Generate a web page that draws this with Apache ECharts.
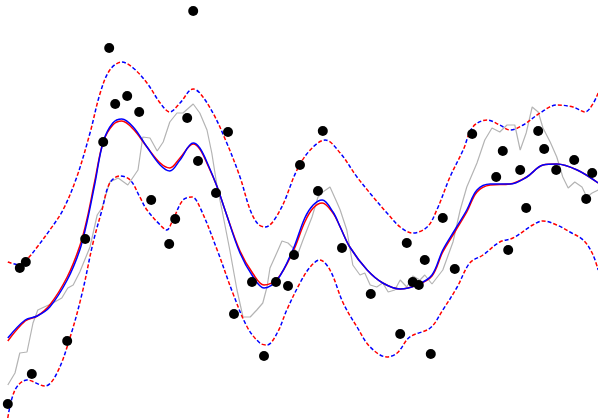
<!DOCTYPE html>
<html>
<head>
<meta charset="utf-8">
<script src="https://cdn.jsdelivr.net/npm/echarts@6/dist/echarts.min.js"></script>
<style>html,body{margin:0;padding:0;background:#fff}#c{width:598px;height:420px}</style>
</head>
<body>
<div id="c"></div>
<script>
// Observations [x, y]
const observations = [
[1.3,-19.4],[3.3,-5.8],[4.3,-5.2],[5.3,-16.4],[11.2,-13.1],[14.2,-2.9],[17.2,6.8],[18.2,16.2],[19.2,10.6],[21.2,11.4],
[23.2,9.8],[25.2,1.0],[28.2,-3.4],[29.2,-0.9],[31.2,9.2],[32.2,19.9],[33.0,4.9],[36.0,1.7],[38.0,7.8],[39.0,-10.4],
[42.0,-7.2],[44.0,-14.6],[46.0,-7.2],[48.0,-7.6],[49.0,-4.5],[50.0,4.5],[53.0,1.9],[53.8,7.9],[57.0,-3.8],[61.8,-8.4],
[66.7,-12.4],[67.8,-3.3],[68.8,-7.2],[69.8,-7.5],[70.8,-5.0],[71.8,-14.4],[73.8,-0.8],[75.8,-5.9],[78.7,7.6],[82.7,3.3],
[83.8,5.9],[84.7,-4.0],[86.7,4.0],[87.7,0.2],[89.7,7.9],[90.7,6.1],[92.7,4.0],[95.7,5.0],[97.7,1.1],[98.7,3.7]
];
// True (noisy) function, gray
const trueCurve = [
[1.3,-17.5],[2.5,-16.3],[3.3,-14.3],[4.5,-14.2],[5.5,-11.3],[6.3,-10.0],[8.8,-9.3],[10.3,-8.8],[11.3,-7.8],[12.2,-7.5],
[13.3,-6.2],[15.0,-3.7],[16.2,-0.5],[17.0,0.2],[18.3,2.8],[19.7,3.2],[21.3,2.5],[23.0,4.0],[23.8,7.3],[25.0,7.2],
[26.2,5.9],[27.2,6.8],[28.3,8.8],[29.5,9.7],[30.5,9.7],[32.2,10.6],[33.3,9.7],[34.5,8.0],[35.3,5.7],[36.2,2.3],
[37.0,0.0],[38.3,-4.0],[39.5,-8.0],[40.5,-10.7],[41.7,-10.7],[42.8,-10.0],[43.8,-9.3],[44.5,-7.7],[45.0,-5.8],[46.2,-4.2],
[47.0,-3.1],[48.0,-3.3],[49.7,-4.3],[50.5,-3.0],[52.0,-0.7],[53.0,1.3],[53.8,1.8],[55.0,2.3],[56.2,0.7],[56.7,0.0],
[57.8,-2.0],[58.8,-5.5],[60.0,-6.5],[60.8,-6.3],[61.7,-7.5],[62.8,-7.7],[63.8,-7.3],[64.7,-8.2],[65.8,-8.0],[66.7,-7.0],
[67.8,-7.7],[68.8,-6.6],[70.0,-7.0],[70.8,-6.5],[72.0,-7.4],[73.8,-6.0],[75.5,-3.2],[76.7,0.0],[77.8,2.3],[79.5,4.7],
[80.8,7.0],[82.0,8.2],[83.3,7.8],[84.5,8.5],[85.8,8.5],[86.7,6.0],[87.7,7.7],[88.7,10.3],[89.7,9.8],[90.5,8.2],
[91.7,6.8],[92.8,5.3],[93.8,3.3],[94.7,2.2],[95.8,2.8],[97.0,2.3],[97.8,1.3],[98.7,1.7],[99.7,2.0]
];
// Blue model mean
const meanBlue = [
[1.3,-12.8],[4.2,-11.0],[6.2,-10.6],[8.3,-9.7],[11.2,-7.0],[13.3,-4.0],[14.5,-1.2],[15.8,2.6],[17.2,6.8],[18.8,8.7],
[20.3,9.1],[22.2,8.3],[24.5,6.3],[26.7,4.5],[28.3,3.9],[30.0,5.0],[32.2,6.7],[33.3,6.2],[34.7,4.5],[36.2,2.3],
[37.5,0.0],[40.0,-4.3],[42.2,-6.7],[44.0,-7.8],[46.2,-7.0],[48.8,-4.0],[50.8,-0.8],[52.2,0.5],[53.7,1.0],[55.5,-0.2],
[56.7,-1.7],[58.3,-3.7],[61.2,-6.0],[63.8,-7.3],[66.7,-7.9],[69.5,-7.5],[72.0,-6.5],[73.8,-4.0],[75.8,-2.0],[77.8,0.0],
[79.5,2.0],[81.7,2.6],[85.0,2.6],[87.8,3.3],[90.5,4.5],[92.8,4.6],[96.2,4.0],[99.7,2.7]
];
// Red model mean
const meanRed = [
[1.3,-13.1],[4.2,-11.1],[6.2,-10.6],[8.3,-9.5],[11.2,-6.7],[13.3,-3.6],[14.5,-0.9],[15.8,2.9],[17.2,6.8],[18.8,8.5],
[20.3,8.9],[22.2,8.1],[24.5,6.3],[26.7,4.7],[28.3,4.2],[30.0,5.2],[32.2,6.6],[33.3,6.1],[34.7,4.4],[36.2,2.3],
[37.5,0.0],[40.0,-4.1],[42.2,-6.4],[44.0,-7.5],[46.2,-6.9],[48.8,-4.2],[50.8,-1.2],[52.2,0.2],[53.7,0.7],[55.5,-0.3],
[56.7,-1.7],[58.3,-3.7],[61.2,-6.0],[63.8,-7.3],[66.7,-7.9],[69.5,-7.5],[72.0,-6.6],[73.8,-4.2],[75.8,-2.2],[77.8,-0.2],
[79.5,1.8],[81.7,2.5],[85.0,2.6],[87.8,3.3],[90.5,4.5],[92.8,4.6],[96.2,4.0],[99.7,2.7]
];
// Upper confidence bound
const upperBound = [
[1.3,-5.2],[3.3,-5.5],[4.7,-4.8],[6.2,-3.7],[8.3,-2.0],[10.5,0.0],[12.8,3.3],[15.0,7.7],[16.7,11.7],[18.3,14.0],
[20.3,14.8],[22.2,14.2],[24.5,12.7],[26.7,10.7],[28.3,9.8],[30.0,10.7],[32.2,12.1],[33.3,11.7],[35.5,9.7],[37.8,6.7],
[40.0,3.3],[41.7,0.0],[43.0,-1.4],[44.2,-1.7],[46.7,0.0],[49.5,4.0],[51.7,6.0],[54.2,7.0],[56.7,5.7],[59.5,3.3],
[62.2,1.3],[64.5,-0.3],[66.7,-1.7],[68.8,-2.3],[71.2,-1.7],[72.8,0.0],[75.0,3.3],[77.2,6.0],[78.8,8.3],[81.2,9.0],
[83.3,8.5],[85.0,8.0],[87.2,8.5],[90.0,9.7],[92.8,10.5],[95.5,10.3],[97.5,9.8],[99.7,11.7]
];
// Lower confidence bound
const lowerBound = [
[1.3,-20.8],[2.5,-18.0],[4.5,-17.0],[7.5,-17.6],[9.5,-16.3],[11.7,-12.7],[13.7,-8.3],[15.5,-3.3],[17.0,0.0],[18.3,2.7],
[20.0,3.4],[21.7,3.0],[23.3,1.3],[24.5,0.0],[26.7,-1.5],[27.8,-2.0],[28.8,-1.0],[30.5,1.0],[32.0,1.3],[33.3,0.3],
[36.2,-4.0],[38.8,-8.3],[41.2,-11.7],[43.3,-13.3],[44.5,-13.5],[46.2,-12.3],[47.8,-10.0],[50.0,-7.3],[51.7,-5.7],[53.3,-5.0],
[55.0,-6.0],[57.2,-9.3],[59.5,-11.7],[61.7,-13.7],[64.5,-14.7],[66.2,-14.3],[68.3,-12.7],[71.7,-11.8],[73.8,-10.0],[76.2,-7.7],
[78.3,-5.3],[80.5,-4.5],[83.3,-3.2],[85.5,-2.8],[88.8,-1.5],[90.5,-1.1],[92.8,-1.5],[95.0,-2.2],[97.2,-3.0],[98.7,-4.3],[99.7,-6.0]
];

const chart = echarts.init(document.getElementById('c'), null, {renderer: 'canvas'});
function dashed(data, color, offset) {
  return {type: 'line', data: data, smooth: 0.35, showSymbol: false, silent: true,
    lineStyle: {color: color, width: 1.5, type: [4, 8], dashOffset: offset}, z: 3};
}
chart.setOption({
  animation: false,
  backgroundColor: '#ffffff',
  grid: {left: 0, right: 0, top: 0, bottom: 0},
  xAxis: {type: 'value', min: 0, max: 99.67, show: false},
  yAxis: {type: 'value', min: -21, max: 21, show: false},
  series: [
    {type: 'line', data: trueCurve, showSymbol: false, silent: true,
     lineStyle: {color: '#b4b4b4', width: 1.2}, z: 1},
    {type: 'line', data: meanRed, smooth: 0.35, showSymbol: false, silent: true,
     lineStyle: {color: '#ff0000', width: 1.5}, z: 2},
    {type: 'line', data: meanBlue, smooth: 0.35, showSymbol: false, silent: true,
     lineStyle: {color: '#0000ff', width: 1.5}, z: 2},
    dashed(upperBound, '#ff0000', 0),
    dashed(upperBound, '#0000ff', 6),
    dashed(lowerBound, '#ff0000', 0),
    dashed(lowerBound, '#0000ff', 6),
    {type: 'scatter', data: observations, symbolSize: 10, silent: true,
     itemStyle: {color: '#000000', opacity: 1}, z: 5}
  ]
});
</script>
</body>
</html>
